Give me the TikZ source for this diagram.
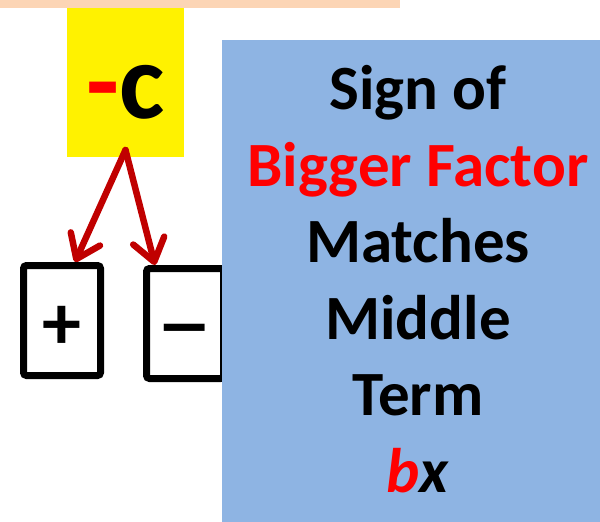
\documentclass[tikz,border=0pt]{standalone}
\usepackage{fontspec}
\setmainfont{Carlito}
\usepackage{graphicx}
\usetikzlibrary{arrows.meta}
\usepackage{xcolor}
\definecolor{peach}{HTML}{FCD5B5}
\definecolor{panelblue}{HTML}{8EB4E3}
\definecolor{arrowred}{HTML}{C00000}

\begin{document}
\begin{tikzpicture}[x=1pt, y=-1pt,
        % Box styles
        fillbox/.style={rectangle, inner sep=0pt, outer sep=0pt},
        signbox/.style={rectangle, draw=black, line width=7pt, rounded corners=3pt, minimum width=77pt, minimum height=110pt, inner sep=0pt, text height=58pt, text depth=0pt, font=\fontsize{78}{78}\selectfont\bfseries},
        % Arrow style
        splitarrow/.style={-{Straight Barb[length=22pt, width=32pt, round]}, line width=6.5pt, draw=arrowred, line cap=round},
        % Text styles
        bigtxt/.style={font=\fontsize{108}{108}\selectfont\bfseries, inner sep=0pt},
        ruletxt/.style={font=\fontsize{63}{76.6}\selectfont\bfseries, align=center, inner sep=0pt}
    ]
    \useasboundingbox (0,0) rectangle (600,522);

    % Top strip and the constant term
    \node[fillbox, fill=peach, minimum width=400pt, minimum height=8pt] (topbar) at (200,4) {};
    \node[fillbox, fill=yellow, minimum width=117pt, minimum height=149pt] (cbox) at (125.5,82.5) {};
    \node[bigtxt, anchor=base] (negc) at (126,118) {\textcolor{red}{-}c};

    % Sign boxes
    \node[signbox] (plusbox) at (62,320.5) {+};
    \node[signbox] (minusbox) at (185,323.5) {\scalebox{1.35}[1]{−}};

    % Arrows down to the signs
    \coordinate (fork) at ([yshift=7pt]cbox.south);
    \draw[splitarrow] (fork) -- ([xshift=13pt]plusbox.north);
    \draw[splitarrow] (fork) -- ([xshift=-30pt]minusbox.north);

    % Rule panel
    \node[fillbox, fill=panelblue, minimum width=378pt, minimum height=482pt] (panel) at (411,281) {};
    \node[ruletxt, anchor=north] (ruletext) at (418,65) {Sign of\\
        \textcolor{red}{Bigger Factor}\\
        Matches\\
        Middle\\
        Term\\
        \textit{\textcolor{red}{b}x}};

\end{tikzpicture}
\end{document}
